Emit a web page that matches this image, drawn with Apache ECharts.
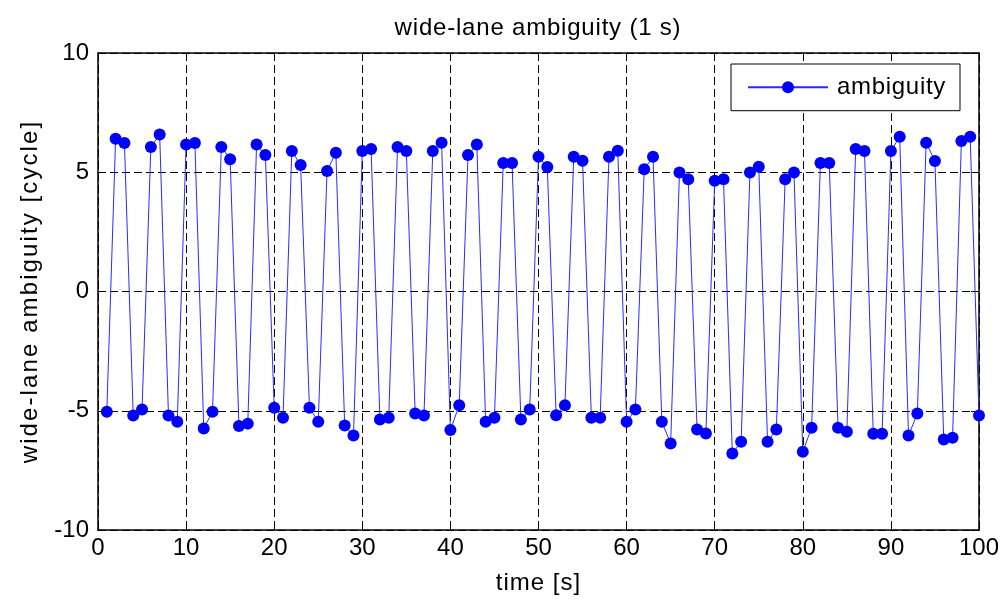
<!DOCTYPE html>
<html>
<head>
<meta charset="utf-8">
<script src="https://cdn.jsdelivr.net/npm/echarts@6/dist/echarts.min.js"></script>
<style>html,body{margin:0;padding:0;background:#fff;}#c{width:1004px;height:601px;}</style>
</head>
<body>
<div id="c"></div>
<script>
const titleText = 'wide-lane ambiguity (1 s)';
const xName = 'time [s]';
const yName = 'wide-lane ambiguity [cycle]';
const seriesName = 'ambiguity';
const xTicks = [0, 10, 20, 30, 40, 50, 60, 70, 80, 90, 100];
const yTicks = [-10, -5, 0, 5, 10];
const time = [1,2,3,4,5,6,7,8,9,10,11,12,13,14,15,16,17,18,19,20,
  21,22,23,24,25,26,27,28,29,30,31,32,33,34,35,36,37,38,39,40,
  41,42,43,44,45,46,47,48,49,50,51,52,53,54,55,56,57,58,59,60,
  61,62,63,64,65,66,67,68,69,70,71,72,73,74,75,76,77,78,79,80,
  81,82,83,84,85,86,87,88,89,90,91,92,93,94,95,96,97,98,99,100];
const ambiguity = [
  -5.04, 6.40, 6.23, -5.20, -4.95, 6.06, 6.58, -5.20, -5.46, 6.16,
  6.23, -5.74, -5.04, 6.06, 5.55, -5.64, -5.54, 6.16, 5.72, -4.87,
  -5.29, 5.89, 5.30, -4.87, -5.46, 5.05, 5.82, -5.62, -6.04, 5.89,
  5.97, -5.37, -5.29, 6.06, 5.89, -5.12, -5.20, 5.89, 6.24, -5.81,
  -4.77, 5.72, 6.16, -5.46, -5.29, 5.39, 5.39, -5.37, -4.95, 5.65,
  5.22, -5.19, -4.77, 5.65, 5.48, -5.29, -5.29, 5.65, 5.90, -5.46,
  -4.95, 5.13, 5.65, -5.46, -6.37, 4.99, 4.71, -5.79, -5.95, 4.64,
  4.71, -6.79, -6.30, 4.99, 5.23, -6.30, -5.79, 4.71, 4.99, -6.72,
  -5.71, 5.39, 5.39, -5.71, -5.88, 5.97, 5.89, -5.96, -5.96, 5.89,
  6.49, -6.04, -5.12, 6.24, 5.47, -6.21, -6.13, 6.31, 6.49, -5.20
];

// Letter spacing helper: families tagged "lspNN" get NN/10 px letter spacing
(function () {
  const P = CanvasRenderingContext2D.prototype;
  function setLS(ctx) {
    const m = /lsp(\d+)/.exec(ctx.font || '');
    try { ctx.letterSpacing = m ? (parseInt(m[1], 10) / 10) + 'px' : '0px'; } catch (e) {}
  }
  ['fillText', 'strokeText', 'measureText'].forEach(function (k) {
    const orig = P[k];
    P[k] = function () { setLS(this); return orig.apply(this, arguments); };
  });
})();

const FONT = '"Liberation Sans", Arial, sans-serif';
const fam = n => '"Liberation Sans", lsp' + n + ', Arial, sans-serif';
const pts = time.map((t, i) => [t, ambiguity[i]]);
const chart = echarts.init(document.getElementById('c'), null, {renderer: 'canvas'});
const dash = {color: '#000', width: 1, type: [8, 4]};
chart.setOption({
  animation: false,
  backgroundColor: '#fff',
  title: {
    text: titleText, left: 533, top: 11, textAlign: 'center',
    textStyle: {fontFamily: fam(8), fontSize: 24, fontWeight: 'normal', color: '#000'}
  },
  legend: {
    data: [seriesName], left: 731, top: 64,
    orient: 'vertical',
    backgroundColor: '#fff', borderColor: '#000', borderWidth: 1,
    padding: [11, 14, 11, 16],
    itemWidth: 80, itemHeight: 15,
    textStyle: {fontFamily: fam(7), fontSize: 24, color: '#000', padding: [0, 0, 0, 4]}
  },
  grid: {left: 98, top: 53, width: 881, height: 477, containLabel: false},
  xAxis: [{
    type: 'value', min: 0, max: 100, interval: 10,
    name: xName, nameLocation: 'middle', nameGap: 41,
    nameTextStyle: {fontFamily: fam(10), fontSize: 24, color: '#000'},
    axisLine: {show: true, onZero: false, lineStyle: {color: '#000', width: 1.5}},
    axisTick: {show: true, inside: true, length: 8, lineStyle: {color: '#000'}},
    axisLabel: {fontFamily: FONT, fontSize: 24, color: '#000', margin: 6,
      formatter: v => xTicks.includes(v) ? String(v) : ''},
    splitLine: {show: true, lineStyle: dash}
  }, {
    type: 'value', min: 0, max: 100, interval: 10, position: 'top',
    axisLine: {show: true, onZero: false, lineStyle: {color: '#000', width: 1.5}},
    axisTick: {show: true, inside: true, length: 8, lineStyle: {color: '#000'}},
    axisLabel: {show: false}, splitLine: {show: false}
  }],
  yAxis: [{
    type: 'value', min: -10, max: 10, interval: 5,
    name: yName, nameLocation: 'middle', nameGap: 55, nameRotate: 90,
    nameTextStyle: {fontFamily: fam(21), fontSize: 24, color: '#000'},
    axisLine: {show: true, onZero: false, lineStyle: {color: '#000', width: 1.5}},
    axisTick: {show: true, inside: true, length: 8, lineStyle: {color: '#000'}},
    axisLabel: {fontFamily: FONT, fontSize: 24, color: '#000', margin: 9,
      formatter: v => yTicks.includes(v) ? String(v) : ''},
    splitLine: {show: true, lineStyle: dash}
  }, {
    type: 'value', min: -10, max: 10, interval: 5, position: 'right',
    axisLine: {show: true, onZero: false, lineStyle: {color: '#000', width: 1.5}},
    axisTick: {show: true, inside: true, length: 8, lineStyle: {color: '#000'}},
    axisLabel: {show: false}, splitLine: {show: false}
  }],
  series: [{
    name: seriesName, type: 'line', data: pts,
    xAxisIndex: 0, yAxisIndex: 0,
    symbol: 'circle', symbolSize: 12, showSymbol: true,
    lineStyle: {color: '#2a2aff', width: 1},
    itemStyle: {color: '#0000ff', borderWidth: 0},
    emphasis: {disabled: true}
  }]
});
</script>
</body>
</html>
